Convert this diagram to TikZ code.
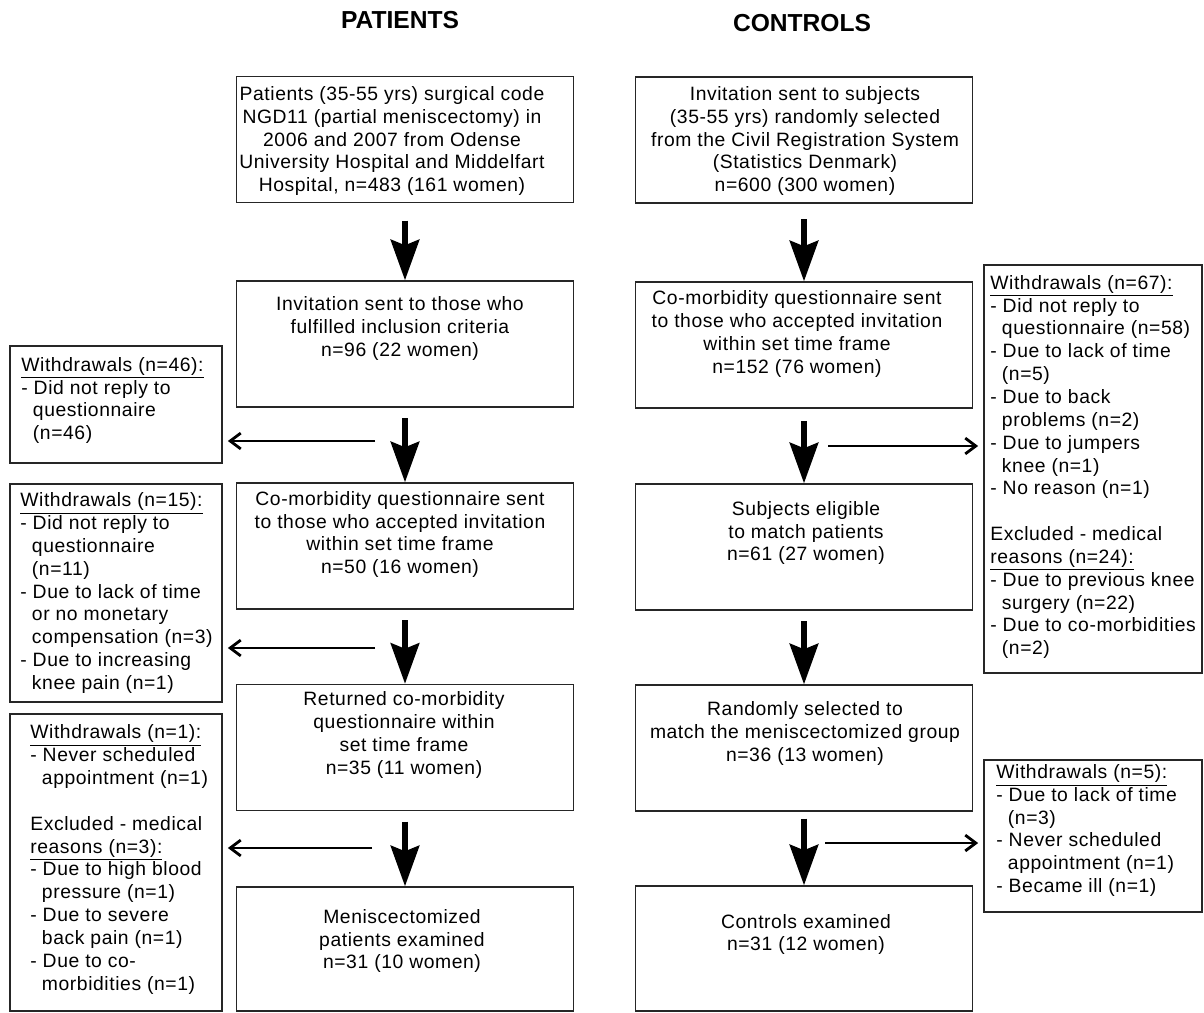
\documentclass[tikz,border=0pt]{standalone}
\usepackage{fontspec}
\setmainfont{Liberation Sans}
\newfontfamily\boxfont{Liberation Sans}[LetterSpace=3]
\usetikzlibrary{arrows.meta}
\begin{document}
\begin{tikzpicture}[x=0.02cm, y=-0.02cm,
  box/.style={draw=black!85, line width=0.7pt, minimum width=6.74cm, minimum height=2.52cm},
  side/.style={draw=black!85, line width=0.7pt, minimum width=4.24cm},
  txt/.style={align=center, font=\boxfont\fontsize{11}{13}\selectfont, inner sep=0pt},
  ltxt/.style={align=left, anchor=west, font=\boxfont\fontsize{11}{13}\selectfont, inner sep=0pt},
  down/.style={line width=3.8pt, -{Stealth[length=23pt, width=16pt, inset=3pt]}, shorten <=2pt},
  aside/.style={line width=1.6pt, -{Straight Barb[length=6pt, width=9pt]}, shorten >=3pt}]
\useasboundingbox (0,0) rectangle (1204,1012);
\newcommand{\indnt}{\hspace*{0.6em}}
% headings
\node[font=\fontsize{14}{16}\selectfont\bfseries] (hp) at (400,20) {PATIENTS};
\node[font=\fontsize{14}{16}\selectfont\bfseries] (hc) at (802,23) {CONTROLS};
% patients column
\node[box] (p1) at (405,139.5) {};
\node[box] (p2) at (405,344) {};
\node[box] (p3) at (405,546) {};
\node[box] (p4) at (405,747.5) {};
\node[box, minimum height=2.48cm] (p5) at (405,949) {};
\node[txt] (p1t) at (392,141) {Patients (35-55 yrs) surgical code\\NGD11 (partial meniscectomy) in\\2006 and 2007 from Odense\\University Hospital and Middelfart\\Hospital, n=483 (161 women)};
\node[txt] (p2t) at (400,328.5) {Invitation sent to those who\\fulfilled inclusion criteria\\n=96 (22 women)};
\node[txt] (p3t) at (400,534.5) {Co-morbidity questionnaire sent\\to those who accepted invitation\\within set time frame\\n=50 (16 women)};
\node[txt] (p4t) at (404,735) {Returned co-morbidity\\questionnaire within\\set time frame\\n=35 (11 women)};
\node[txt] (p5t) at (402,941) {Meniscectomized\\patients examined\\n=31 (10 women)};
% controls column
\node[box] (c1) at (804,140) {};
\node[box] (c2) at (804,345) {};
\node[box] (c3) at (804,547) {};
\node[box] (c4) at (804,748) {};
\node[box, minimum height=2.5cm] (c5) at (804,948.5) {};
\node[txt] (c1t) at (805,141) {Invitation sent to subjects\\(35-55 yrs) randomly selected\\from the Civil Registration System\\(Statistics Denmark)\\n=600 (300 women)};
\node[txt] (c2t) at (797,334) {Co-morbidity questionnaire sent\\to those who accepted invitation\\within set time frame\\n=152 (76 women)};
\node[txt] (c3t) at (806,533) {Subjects eligible\\to match patients\\n=61 (27 women)};
\node[txt] (c4t) at (805,733.5) {Randomly selected to\\match the meniscectomized group\\n=36 (13 women)};
\node[txt] (c5t) at (806,934.5) {Controls examined\\n=31 (12 women)};
% withdrawals, patients
\node[side, minimum height=2.34cm] (w1) at (116,404.5) {};
\node[side, minimum height=4.36cm] (w2) at (116,593) {};
\node[side, minimum height=5.94cm] (w3) at (116,862.5) {};
\node[ltxt] (w1t) at (21,400.5) {\underline{Withdrawals (n=46):}\\- Did not reply to\\\indnt questionnaire\\\indnt(n=46)};
\node[ltxt] (w2t) at (20,593) {\underline{Withdrawals (n=15):}\\- Did not reply to\\\indnt questionnaire\\\indnt(n=11)\\- Due to lack of time\\\indnt or no monetary\\\indnt compensation (n=3)\\- Due to increasing\\\indnt knee pain (n=1)};
\node[ltxt] (w3t) at (30,859.5) {\underline{Withdrawals (n=1):}\\- Never scheduled\\\indnt appointment (n=1)\\[13pt]Excluded - medical\\\underline{reasons (n=3):}\\- Due to high blood\\\indnt pressure (n=1)\\- Due to severe\\\indnt back pain (n=1)\\- Due to co-\\\indnt morbidities (n=1)};
% withdrawals, controls
\node[side, minimum height=8.16cm, minimum width=4.36cm] (v1) at (1093,469) {};
\node[side, minimum height=3.04cm, minimum width=4.36cm] (v2) at (1093,836) {};
\node[ltxt] (v1t) at (990,467) {\underline{Withdrawals (n=67):}\\- Did not reply to\\\indnt questionnaire (n=58)\\- Due to lack of time\\\indnt(n=5)\\- Due to back\\\indnt problems (n=2)\\- Due to jumpers\\\indnt knee (n=1)\\- No reason (n=1)\\[13pt]Excluded - medical\\\underline{reasons (n=24):}\\- Due to previous knee\\\indnt surgery (n=22)\\- Due to co-morbidities\\\indnt(n=2)};
\node[ltxt] (v2t) at (996,830.5) {\underline{Withdrawals (n=5):}\\- Due to lack of time\\\indnt(n=3)\\- Never scheduled\\\indnt appointment (n=1)\\- Became ill (n=1)};
% down arrows
\draw[down] ([yshift=-8pt]p1.south) -- (p2.north);
\draw[down] ([yshift=-4pt]p2.south) -- (p3.north);
\draw[down] ([yshift=-4pt]p3.south) -- (p4.north);
\draw[down] ([yshift=-4pt]p4.south) -- (p5.north);
\draw[down] ([yshift=-7pt]c1.south) -- (c2.north);
\draw[down] ([yshift=-5pt]c2.south) -- (c3.north);
\draw[down] ([yshift=-4pt]c3.south) -- (c4.north);
\draw[down] ([yshift=-2pt]c4.south) -- (c5.north);
% side arrows
\coordinate (a1) at (375,441);
\coordinate (a2) at (375,648);
\coordinate (a3) at (372,848);
\coordinate (b1) at (828,446);
\coordinate (b2) at (825,843);
\draw[aside] (a1) -- (a1 -| w1.east);
\draw[aside] (a2) -- (a2 -| w2.east);
\draw[aside] (a3) -- (a3 -| w3.east);
\draw[aside] (b1) -- (b1 -| v1.west);
\draw[aside] (b2) -- (b2 -| v2.west);
\end{tikzpicture}
\end{document}
